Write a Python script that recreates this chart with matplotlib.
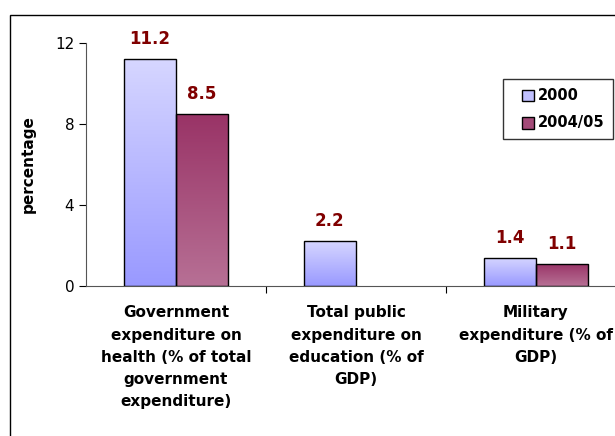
import numpy as np
import matplotlib.pyplot as plt
from matplotlib.patches import Rectangle
from matplotlib.colors import LinearSegmentedColormap
from matplotlib.legend_handler import HandlerPatch

# -------------------------------------------------------------
# Data
# -------------------------------------------------------------
kategorier = ["Government\nexpenditure on\nhealth (% of total\ngovernment\nexpenditure)",
              "Total public\nexpenditure on\neducation (% of\nGDP)",
              "Military\nexpenditure (% of\nGDP)"]
serier = ["2000", "2004/05"]
varden_2000 = [11.2, 2.2, 1.4]
varden_2005 = [8.5, np.nan, 1.1]

# gradient top -> bottom
farger = {"2000": ("#d6d6ff", "#9999ff"),
          "2004/05": ("#993366", "#b77095")}
legend_farger = {"2000": "#c0c0ff", "2004/05": "#a34a78"}

fig = plt.figure(figsize=(6.15, 4.36), dpi=100)
W, H = 615, 436
ax = fig.add_axes([86 / W, 1 - 286 / H, 540 / W, 243 / H])

# ram runt diagrammet
fig.patches.append(Rectangle((10 / W, -0.1), 1.2, 1 - 15 / H + 0.1, transform=fig.transFigure,
                             fill=False, edgecolor="black", linewidth=1.0))

x = np.arange(len(kategorier))
bredd = 0.29


def rita_stapel(xpos, hojd, serie):
    if np.isnan(hojd):
        return
    topp, botten = farger[serie]
    cmap = LinearSegmentedColormap.from_list(serie, [botten, topp])
    stapel = Rectangle((xpos - bredd / 2, 0), bredd, hojd, facecolor="none",
                       edgecolor="black", linewidth=1.0, zorder=3)
    ax.add_patch(stapel)
    grad = np.linspace(0, 1, 256).reshape(-1, 1)
    im = ax.imshow(grad, extent=[xpos - bredd / 2, xpos + bredd / 2, 0, hojd], origin="lower",
                   cmap=cmap, aspect="auto", zorder=2)
    im.set_clip_path(stapel)
    ax.annotate(f"{hojd:.1f}", (xpos, hojd), xytext=(0, 8), textcoords="offset points",
                ha="center", va="bottom", color="#800000", fontsize=12, fontweight="bold")


for i in range(len(kategorier)):
    rita_stapel(x[i] - bredd / 2, varden_2000[i], "2000")
    rita_stapel(x[i] + bredd / 2, varden_2005[i], "2004/05")

ax.set_xlim(-0.5, 2.5)
ax.set_ylim(0, 12)
ax.set_yticks([0, 4, 8, 12])
ax.tick_params(axis="y", labelsize=11, length=5)
ax.set_ylabel("percentage", fontsize=11, fontweight="bold", labelpad=14)

ax.set_xticks([0.5, 1.5])
ax.set_xticklabels([])
ax.tick_params(axis="x", length=5, direction="out")
ax.set_xticks(x, minor=True)
ax.set_xticklabels(kategorier, minor=True, fontsize=11, fontweight="bold", linespacing=1.6,
                   va="top")
ax.tick_params(axis="x", which="minor", length=0, pad=14)

for s in ["top", "right"]:
    ax.spines[s].set_visible(False)
ax.spines["left"].set_color("#555555")
ax.spines["bottom"].set_color("#555555")


# legend: liten kvadrat längst till höger i handtagsytan
def kvadrat(legend, orig_handle, xdescent, ydescent, width, height, fontsize):
    sida = height * 1.1
    return Rectangle((width - sida - xdescent, -ydescent - 1), sida, sida)


handtag = [Rectangle((0, 0), 1, 1, facecolor=legend_farger[s], edgecolor="black") for s in serier]
leg = fig.legend(handtag, serier, loc="upper left", bbox_to_anchor=(503 / W, 1 - 79 / H),
                 borderaxespad=0, frameon=True, fancybox=False, edgecolor="black",
                 prop={"weight": "bold", "size": 10.5}, handlelength=1.5, handleheight=0.75,
                 handletextpad=0.3, borderpad=0.6, labelspacing=0.85,
                 handler_map={Rectangle: HandlerPatch(patch_func=kvadrat)})
leg.get_frame().set_linewidth(1.0)

fig.savefig("out.png", dpi=100)
